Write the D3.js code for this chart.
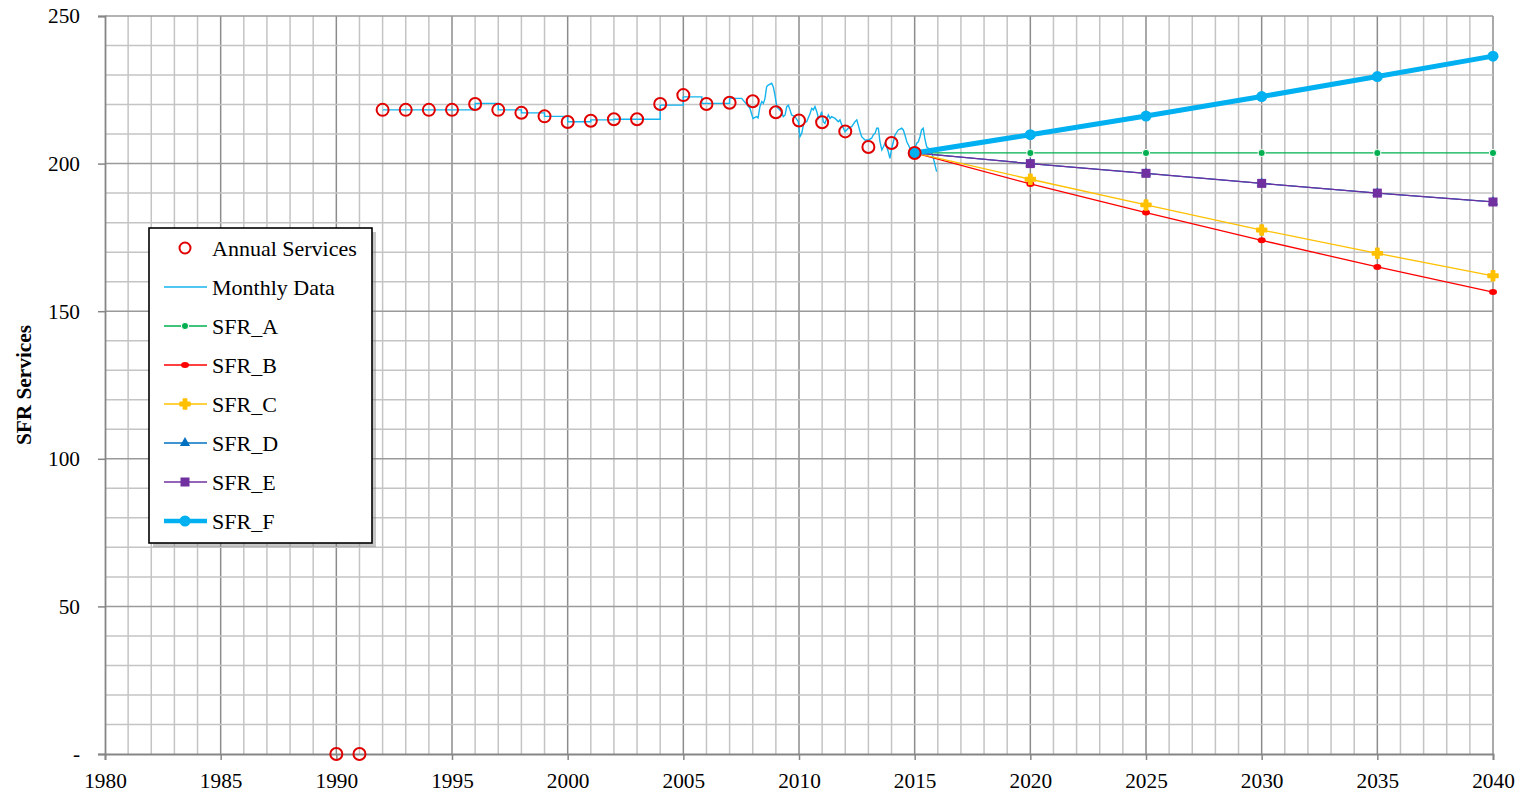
<!DOCTYPE html>
<html>
<head>
<meta charset="utf-8">
<script src="https://cdn.jsdelivr.net/npm/d3@7"></script>
<style>
  body { margin: 0; background: #fff; }
  svg text { font-family: "Liberation Serif", "Times New Roman", serif; fill: #000; }
</style>
</head>
<body>
<div id="chart"></div>
<script>
// annual observations
var annualYears = [1990, 1991, 1992, 1993, 1994, 1995, 1996, 1997, 1998, 1999, 2000, 2001, 2002,
	2003, 2004, 2005, 2006, 2007, 2008, 2009, 2010, 2011, 2012, 2013, 2014, 2015];
var annualServices = [0, 0, 218.2, 218.2, 218.2, 218.2, 220.2, 218.2, 217.2, 216.0, 214.1, 214.5, 215.0,
	215.0, 220.2, 223.2, 220.2, 220.6, 221.1, 217.4, 214.6, 214.0, 210.9, 205.6, 207.0, 203.6];

// monthly series (stepped annual values first, then real monthly readings)
var monthlyT = [1992, 1996, 1996, 1997, 1997, 1998, 1998, 1999, 1999, 2000, 2000, 2001, 2001, 2002, 2002,
	2004, 2004, 2005, 2005, 2005.8, 2005.8, 2007, 2007, 2007.52, 2007.88, 2008.01, 2008.17, 2008.23,
	2008.31, 2008.39, 2008.46, 2008.53, 2008.60, 2008.67, 2008.82, 2008.89, 2008.96, 2009.04, 2009.11,
	2009.25, 2009.32, 2009.40, 2009.47, 2009.54, 2009.61, 2009.68, 2009.83, 2009.97, 2010.04, 2010.12,
	2010.19, 2010.26, 2010.33, 2010.48, 2010.55, 2010.62, 2010.69, 2010.77, 2010.84, 2010.91, 2010.98,
	2011.05, 2011.12, 2011.20, 2011.27, 2011.34, 2011.41, 2011.56, 2011.70, 2011.77, 2011.85, 2011.92,
	2011.99, 2012.13, 2012.28, 2012.42, 2012.50, 2012.56, 2012.64, 2012.71, 2012.85, 2013.00, 2013.14,
	2013.21, 2013.29, 2013.36, 2013.43, 2013.50, 2013.58, 2013.65, 2013.72, 2013.79, 2013.86, 2013.93,
	2014.01, 2014.08, 2014.15, 2014.29, 2014.44, 2014.51, 2014.58, 2014.66, 2014.73, 2014.80, 2014.87,
	2015.01, 2015.09, 2015.16, 2015.23, 2015.30, 2015.37, 2015.45, 2015.52, 2015.59, 2015.74, 2015.81,
	2015.88, 2015.95];
var monthlyV = [218.2, 218.2, 220.4, 220.4, 218.2, 218.2, 217.2, 217.2, 216.0, 216.0, 214.2, 214.2, 214.8,
	214.8, 215.0, 215.0, 219.8, 219.8, 222.6, 222.6, 220.4, 220.4, 222.1, 222.1, 218.7, 215.3, 215.9,
	215.5, 219.3, 221.0, 220.4, 222.1, 226.0, 226.6, 227.2, 226.0, 223.2, 219.3, 218.7,
	217.6, 215.9, 216.5, 219.3, 219.8, 218.2, 216.5, 215.9, 214.2, 209.1, 210.3,
	213.1, 214.2, 214.2, 217.0, 218.7, 218.2, 219.3, 217.6, 215.3, 215.9, 217.6,
	214.2, 213.6, 215.3, 216.5, 215.3, 215.9, 215.3, 214.2, 214.8, 213.1, 212.0,
	210.8, 212.0, 212.5, 214.2, 214.8, 213.1, 210.8, 209.1, 208.0, 208.0, 208.6,
	209.7, 210.3, 212.0, 212.0, 207.4, 204.6, 205.7, 206.9, 205.7, 204.0, 201.8,
	205.2, 207.4, 209.7, 211.4, 212.0, 211.4, 209.7, 207.4, 206.3, 205.2, 204.6,
	205.2, 206.9, 207.4, 209.1, 211.4, 212.0, 208.0, 205.7, 205.2, 203.5, 201.8,
	199.5, 197.3];

// projections
var projYears = [2015, 2020, 2025, 2030, 2035, 2040];
var sfrA = [203.6, 203.6, 203.6, 203.6, 203.6, 203.6];
var sfrB = [203.6, 193.1, 183.4, 174.0, 165.0, 156.5];
var sfrC = [203.6, 194.7, 186.0, 177.5, 169.6, 162.0];
var sfrD = [203.6, 200.0, 196.7, 193.3, 190.0, 187.0];
var sfrE = [203.6, 200.0, 196.7, 193.3, 190.0, 187.0];
var sfrF = [203.6, 209.8, 216.1, 222.7, 229.5, 236.4];

var yTickValues = [0, 50, 100, 150, 200, 250];
var yTickLabels = ["-", "50", "100", "150", "200", "250"];

var width = 1522, height = 800,
	margin = {top: 16, right: 29, bottom: 46, left: 105},
	fontSize = 21.3;

var svg = d3.select("#chart").append("svg")
	.attr("width", width)
	.attr("height", height);

var x = d3.scaleLinear().domain([1980, 2040]).range([margin.left, width - margin.right]);
var y = d3.scaleLinear().domain([0, 250]).range([height - margin.bottom, margin.top]);

// grid
var grid = svg.append("g");
grid.selectAll(".vminor")
	.data(d3.range(1981, 2041))
	.enter().append("line")
	.attr("x1", d => x(d)).attr("x2", d => x(d))
	.attr("y1", y(0)).attr("y2", y(250))
	.attr("stroke", d => d % 5 === 0 ? "#8c8c8c" : "#c4c4c4")
	.attr("stroke-width", 1.5);
grid.selectAll(".hminor")
	.data(d3.range(10, 260, 10))
	.enter().append("line")
	.attr("x1", x(1980)).attr("x2", x(2040))
	.attr("y1", d => y(d)).attr("y2", d => y(d))
	.attr("stroke", d => d % 50 === 0 ? "#9a9a9a" : "#c4c4c4")
	.attr("stroke-width", 1.5);

// axes
var xAxis = d3.axisBottom(x).tickValues(d3.range(1980, 2041, 5)).tickFormat(d3.format("d"))
	.tickSize(6).tickPadding(8);
var gx = svg.append("g").attr("transform", "translate(0," + y(0) + ")").call(xAxis);
var yAxis = d3.axisLeft(y).tickValues(yTickValues).tickFormat((d, i) => yTickLabels[i])
	.tickSize(7).tickPadding(18);
var gy = svg.append("g").attr("transform", "translate(" + x(1980) + ",0)").call(yAxis);
[gx, gy].forEach(function(g) {
	g.attr("font-family", null).attr("font-size", null);
	g.select(".domain").attr("stroke", "#868686").attr("stroke-width", 1.8);
	g.selectAll(".tick line").attr("stroke", "#868686").attr("stroke-width", 1.5);
	g.selectAll(".tick text").style("font-size", fontSize + "px");
});
gx.selectAll(".tick text").attr("dy", "0.95em");

svg.append("text")
	.attr("transform", "translate(31," + ((y(0) + y(250)) / 2) + ") rotate(-90)")
	.attr("text-anchor", "middle")
	.style("font-size", fontSize + "px")
	.style("font-weight", "bold")
	.text("SFR Services");

// series
var line = d3.line().x(d => x(d[0])).y(d => y(d[1]));
var monthly = d3.zip(monthlyT, monthlyV);

svg.append("path")
	.datum(monthly)
	.attr("d", line)
	.attr("fill", "none")
	.attr("stroke", "#14b4ee")
	.attr("stroke-width", 1.4);

var series = [
	{name: "SFR_A", values: sfrA, color: "#00b050", width: 1.3, marker: "circle"},
	{name: "SFR_B", values: sfrB, color: "#ff0000", width: 1.3, marker: "oval"},
	{name: "SFR_C", values: sfrC, color: "#ffc000", width: 1.3, marker: "star"},
	{name: "SFR_D", values: sfrD, color: "#0070c0", width: 1.3, marker: "triangle"},
	{name: "SFR_E", values: sfrE, color: "#7030a0", width: 1.3, marker: "square"},
	{name: "SFR_F", values: sfrF, color: "#00b0f0", width: 5, marker: "big"}
];

function drawMarker(g, type, color) {
	if (type === "circle") {
		g.append("circle").attr("r", 3.6).attr("fill", color).attr("stroke", "#fff").attr("stroke-width", 1);
	} else if (type === "oval") {
		g.append("ellipse").attr("rx", 4).attr("ry", 3).attr("fill", color);
	} else if (type === "star") {
		g.append("path").attr("d", d3.symbol().type(d3.symbolCross).size(55)()).attr("fill", color)
			.attr("stroke", color).attr("stroke-width", 1.5).attr("stroke-linejoin", "round");
	} else if (type === "triangle") {
		g.append("path").attr("d", d3.symbol().type(d3.symbolTriangle).size(45)()).attr("fill", color);
	} else if (type === "square") {
		g.append("rect").attr("x", -4.5).attr("y", -4.5).attr("width", 9).attr("height", 9).attr("fill", color);
	} else if (type === "big") {
		g.append("circle").attr("r", 5.5).attr("fill", color);
	}
}

series.forEach(function(s) {
	var pts = d3.zip(projYears, s.values);
	svg.append("path")
		.datum(pts)
		.attr("d", line)
		.attr("fill", "none")
		.attr("stroke", s.color)
		.attr("stroke-width", s.width);
	pts.forEach(function(p) {
		var g = svg.append("g").attr("transform", "translate(" + x(p[0]) + "," + y(p[1]) + ")");
		drawMarker(g, s.marker, s.color);
	});
});

// annual circles
svg.selectAll(".annual")
	.data(d3.zip(annualYears, annualServices))
	.enter().append("circle")
	.attr("class", "annual")
	.attr("cx", d => x(d[0]))
	.attr("cy", d => y(d[1]))
	.attr("r", 6)
	.attr("fill", "none")
	.attr("stroke", "#e00000")
	.attr("stroke-width", 2);

// legend
var legendNames = ["Annual Services", "Monthly Data"].concat(series.map(s => s.name));
var lx = 149, ly = 228, lw = 223, lh = 315;
var legend = svg.append("g");
legend.append("rect")
	.attr("x", lx + 4).attr("y", ly + 4).attr("width", lw).attr("height", lh)
	.attr("fill", "#808080").attr("opacity", 0.45);
legend.append("rect")
	.attr("x", lx).attr("y", ly).attr("width", lw).attr("height", lh)
	.attr("fill", "#fff").attr("stroke", "#000").attr("stroke-width", 1.6);

legendNames.forEach(function(name, i) {
	var cy = ly + 20 + i * 39;
	var g = legend.append("g").attr("transform", "translate(0," + cy + ")");
	if (i === 0) {
		g.append("circle").attr("cx", 185).attr("r", 5.5).attr("fill", "none")
			.attr("stroke", "#e00000").attr("stroke-width", 2);
	} else if (i === 1) {
		g.append("line").attr("x1", 164).attr("x2", 207).attr("stroke", "#14b4ee").attr("stroke-width", 1.4);
	} else {
		var s = series[i - 2];
		g.append("line").attr("x1", 164).attr("x2", 207).attr("stroke", s.color)
			.attr("stroke-width", s.width === 5 ? 4.5 : 1.5);
		drawMarker(g.append("g").attr("transform", "translate(185,0)"), s.marker, s.color);
	}
	g.append("text")
		.attr("x", 212)
		.attr("dy", "0.35em")
		.style("font-size", "22px")
		.text(name);
});
</script>
</body>
</html>
